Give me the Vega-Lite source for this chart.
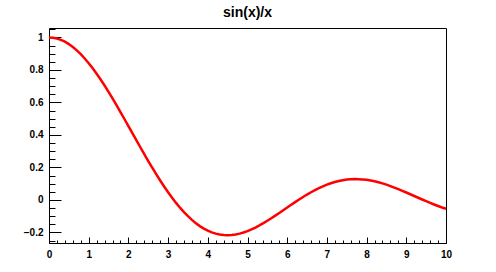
{
  "$schema": "https://vega.github.io/schema/vega-lite/v6.json",
  "width": 397,
  "height": 215,
  "autosize": {"type": "none"},
  "padding": {"left": 49, "top": 28, "right": 50, "bottom": 29},
  "background": "white",
  "title": {
    "text": "sin(x)/x",
    "font": "Liberation Sans",
    "fontSize": 14,
    "fontWeight": "bold",
    "color": "black",
    "anchor": "middle",
    "offset": 8
  },
  "config": {
    "view": {"stroke": "black", "strokeWidth": 1},
    "axis": {
      "domain": false,
      "grid": false,
      "tickColor": "black",
      "tickWidth": 1,
      "labelColor": "black",
      "labelFont": "Liberation Sans",
      "labelFontSize": 10,
      "labelFontWeight": "bold",
      "labelFlush": false,
      "labelOverlap": false,
      "title": null
    }
  },
  "data": {
    "values": [
      {"x": 0.0, "y": 1.0}, {"x": 0.1, "y": 0.99833}, {"x": 0.2, "y": 0.99335}, {"x": 0.3, "y": 0.98507},
      {"x": 0.4, "y": 0.97355}, {"x": 0.5, "y": 0.95885}, {"x": 0.6, "y": 0.94107}, {"x": 0.7, "y": 0.92031},
      {"x": 0.8, "y": 0.8967}, {"x": 0.9, "y": 0.87036}, {"x": 1.0, "y": 0.84147}, {"x": 1.1, "y": 0.81019},
      {"x": 1.2, "y": 0.7767}, {"x": 1.3, "y": 0.7412}, {"x": 1.4, "y": 0.70389}, {"x": 1.5, "y": 0.665},
      {"x": 1.6, "y": 0.62473}, {"x": 1.7, "y": 0.58333}, {"x": 1.8, "y": 0.54103}, {"x": 1.9, "y": 0.49805},
      {"x": 2.0, "y": 0.45465}, {"x": 2.1, "y": 0.41105}, {"x": 2.2, "y": 0.3675}, {"x": 2.3, "y": 0.32422},
      {"x": 2.4, "y": 0.28144}, {"x": 2.5, "y": 0.23939}, {"x": 2.6, "y": 0.19827}, {"x": 2.7, "y": 0.15829},
      {"x": 2.8, "y": 0.11964}, {"x": 2.9, "y": 0.0825}, {"x": 3.0, "y": 0.04704}, {"x": 3.1, "y": 0.01341},
      {"x": 3.2, "y": -0.01824}, {"x": 3.3, "y": -0.0478}, {"x": 3.4, "y": -0.07516}, {"x": 3.5, "y": -0.10022},
      {"x": 3.6, "y": -0.12292}, {"x": 3.7, "y": -0.1432}, {"x": 3.8, "y": -0.16101}, {"x": 3.9, "y": -0.17635},
      {"x": 4.0, "y": -0.1892}, {"x": 4.1, "y": -0.19958}, {"x": 4.2, "y": -0.20752}, {"x": 4.3, "y": -0.21306},
      {"x": 4.4, "y": -0.21627}, {"x": 4.5, "y": -0.21723}, {"x": 4.6, "y": -0.21602}, {"x": 4.7, "y": -0.21275},
      {"x": 4.8, "y": -0.20753}, {"x": 4.9, "y": -0.2005}, {"x": 5.0, "y": -0.19178}, {"x": 5.1, "y": -0.18153},
      {"x": 5.2, "y": -0.16989}, {"x": 5.3, "y": -0.15703}, {"x": 5.4, "y": -0.1431}, {"x": 5.5, "y": -0.12828},
      {"x": 5.6, "y": -0.11273}, {"x": 5.7, "y": -0.09661}, {"x": 5.8, "y": -0.0801}, {"x": 5.9, "y": -0.06337},
      {"x": 6.0, "y": -0.04657}, {"x": 6.1, "y": -0.02986}, {"x": 6.2, "y": -0.0134}, {"x": 6.3, "y": 0.00267},
      {"x": 6.4, "y": 0.01821}, {"x": 6.5, "y": 0.0331}, {"x": 6.6, "y": 0.0472}, {"x": 6.7, "y": 0.06043},
      {"x": 6.8, "y": 0.07266}, {"x": 6.9, "y": 0.08383}, {"x": 7.0, "y": 0.09386}, {"x": 7.1, "y": 0.10267},
      {"x": 7.2, "y": 0.11023}, {"x": 7.3, "y": 0.1165}, {"x": 7.4, "y": 0.12145}, {"x": 7.5, "y": 0.12507},
      {"x": 7.6, "y": 0.12721}, {"x": 7.7, "y": 0.12833}, {"x": 7.8, "y": 0.12802}, {"x": 7.9, "y": 0.12645},
      {"x": 8.0, "y": 0.12367}, {"x": 8.1, "y": 0.11974}, {"x": 8.2, "y": 0.11472}, {"x": 8.3, "y": 0.1087},
      {"x": 8.4, "y": 0.10174}, {"x": 8.5, "y": 0.09394}, {"x": 8.6, "y": 0.0854}, {"x": 8.7, "y": 0.0762},
      {"x": 8.8, "y": 0.06647}, {"x": 8.9, "y": 0.05629}, {"x": 9.0, "y": 0.04579}, {"x": 9.1, "y": 0.03507},
      {"x": 9.2, "y": 0.02423}, {"x": 9.3, "y": 0.01338}, {"x": 9.4, "y": 0.00264}, {"x": 9.5, "y": -0.00791},
      {"x": 9.6, "y": -0.01816}, {"x": 9.7, "y": -0.02802}, {"x": 9.8, "y": -0.0374}, {"x": 9.9, "y": -0.04622},
      {"x": 10.0, "y": -0.0544}
    ]
  },
  "layer": [
    {
      "mark": {"type": "line", "opacity": 0},
      "encoding": {
        "x": {"field": "x", "type": "quantitative",
          "scale": {"domain": [0, 10], "nice": false, "zero": false},
          "axis": {"orient": "bottom", "labels": false, "tickSize": -3,
            "values": [0,0.2,0.4,0.6,0.8,1,1.2,1.4,1.6,1.8,2,2.2,2.4,2.6,2.8,3,3.2,3.4,3.6,3.8,4,4.2,4.4,4.6,4.8,5,5.2,5.4,5.6,5.8,6,6.2,6.4,6.6,6.8,7,7.2,7.4,7.6,7.8,8,8.2,8.4,8.6,8.8,9,9.2,9.4,9.6,9.8,10]}},
        "y": {"field": "y", "type": "quantitative",
          "scale": {"domain": [-0.265, 1.058], "nice": false, "zero": false},
          "axis": {"orient": "left", "labels": false, "tickSize": -6,
            "values": [-0.25,-0.2,-0.15,-0.1,-0.05,0,0.05,0.1,0.15,0.2,0.25,0.3,0.35,0.4,0.45,0.5,0.55,0.6,0.65,0.7,0.75,0.8,0.85,0.9,0.95,1,1.05]}}
      }
    },
    {
      "mark": {"type": "line", "color": "#ff0000", "strokeWidth": 2.5},
      "encoding": {
        "x": {"field": "x", "type": "quantitative",
          "axis": {"orient": "bottom", "tickSize": -6, "labelPadding": 12, "format": "d",
            "values": [0,1,2,3,4,5,6,7,8,9,10]}},
        "y": {"field": "y", "type": "quantitative",
          "axis": {"orient": "left", "tickSize": -12, "labelPadding": 18, "format": "~g",
            "values": [-0.2,0,0.2,0.4,0.6,0.8,1]}}
      }
    }
  ],
  "resolve": {"axis": {"x": "independent", "y": "independent"}}
}
